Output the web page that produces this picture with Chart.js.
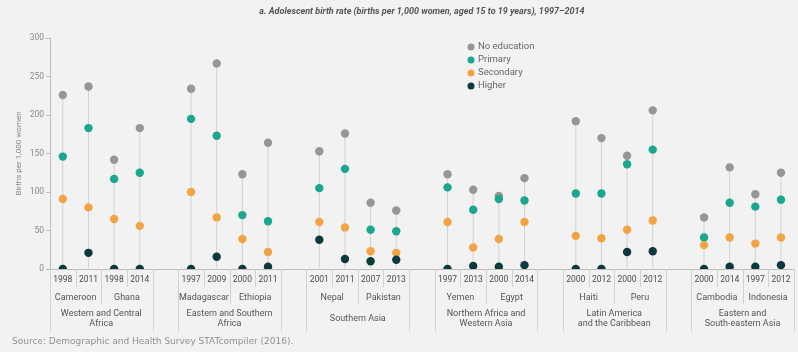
<!DOCTYPE html>
<html>
<head>
<meta charset="utf-8">
<script src="https://cdn.jsdelivr.net/npm/chart.js@4.4.1/dist/chart.umd.min.js"></script>
<style>
  html, body { margin: 0; padding: 0; background: #f2f2f2; }
  canvas { display: block; }
</style>
</head>
<body>
<canvas id="birthChart" width="798" height="352"></canvas>
<script>
// Survey years per country, '' marks the empty slot between regions
const years = ['1998', '2011', '1998', '2014', '',
               '1997', '2009', '2000', '2011', '',
               '2001', '2011', '2007', '2013', '',
               '1997', '2013', '2000', '2014', '',
               '2000', '2012', '2000', '2012', '',
               '2000', '2014', '1997', '2012'];

const countries = ['Cameroon', 'Ghana', 'Madagascar', 'Ethiopia', 'Nepal', 'Pakistan',
                   'Yemen', 'Egypt', 'Haiti', 'Peru', 'Cambodia', 'Indonesia'];

const regions = [['Western and Central', 'Africa'], ['Eastern and Southern', 'Africa'],
                 ['Southern Asia'], ['Northern Africa and', 'Western Asia'],
                 ['Latin America', 'and the Caribbean'], ['Eastern and', 'South-eastern Asia']];

// Births per 1,000 women aged 15-19, by mother's education
const noEducation = [226, 237, 142, 183, null, 234, 267, 123, 164, null, 153, 176, 86, 76, null,
                     123, 103, 95, 118, null, 192, 170, 147, 206, null, 67, 132, 97, 125];
const primary     = [146, 183, 117, 125, null, 195, 173, 70, 62, null, 105, 130, 51, 49, null,
                     106, 77, 91, 89, null, 98, 98, 136, 155, null, 41, 86, 81, 90];
const secondary   = [91, 80, 65, 56, null, 100, 67, 39, 22, null, 61, 54, 23, 21, null,
                     61, 28, 39, 61, null, 43, 40, 51, 63, null, 31, 41, 33, 41];
const higher      = [0, 21, 0, 0, null, 0, 16, 0, 3, null, 38, 13, 10, 12, null,
                     0, 4, 3, 5, null, 0, 0, 22, 23, null, 0, 3, 3, 5];

const yTicks = [0, 50, 100, 150, 200, 250, 300];

const FONT = 'Roboto, "DejaVu Sans", sans-serif';
const LINE_COLOR = '#d2d2d2';

// thin grey stem from zero up to the highest rate of each survey
const stems = noEducation.map(v => v === null ? null : [0, v]);

function dotSet(label, data, color, order) {
    return {
        type: 'line',
        label: label,
        data: data,
        showLine: false,
        pointRadius: 4.2,
        pointHoverRadius: 4.2,
        pointBorderWidth: 0,
        pointBackgroundColor: color,
        backgroundColor: color,
        borderColor: color,
        order: order
    };
}

// Legend, title, category table and source line
const decorations = {
    id: 'decorations',
    beforeDraw(chart) {
        const ctx = chart.ctx;
        ctx.save();
        ctx.fillStyle = '#f2f2f2';
        ctx.fillRect(0, 0, chart.width, chart.height);
        ctx.restore();
    },
    afterDraw(chart) {
        const ctx = chart.ctx;
        const x = chart.scales.x;
        const area = chart.chartArea;
        const px = i => x.getPixelForValue(i);
        const half = (px(1) - px(0)) / 2;
        const top = area.bottom;

        ctx.save();

        // title
        ctx.fillStyle = '#555';
        ctx.font = 'italic bold 9px "Liberation Sans Narrow", ' + FONT;
        ctx.textAlign = 'center';
        ctx.textBaseline = 'middle';
        ctx.fillText('a. Adolescent birth rate (births per 1,000 women, aged 15 to 19 years), 1997\u20132014',
            (area.left + area.right) / 2, 12);

        // legend
        const legendSets = chart.data.datasets.filter(d => d.type === 'line');
        ctx.textAlign = 'left';
        ctx.font = '9.5px ' + FONT;
        legendSets.forEach((ds, i) => {
            const ly = 47 + i * 13;
            ctx.fillStyle = ds.pointBackgroundColor;
            ctx.beginPath();
            ctx.arc(471, ly, 3.5, 0, Math.PI * 2);
            ctx.fill();
            ctx.fillStyle = '#666';
            ctx.fillText(ds.label, 478, ly);
        });

        // separators below the axis
        ctx.strokeStyle = LINE_COLOR;
        ctx.lineWidth = 1;
        const vline = (lx, y2) => {
            ctx.beginPath();
            ctx.moveTo(Math.round(lx) + 0.5, top);
            ctx.lineTo(Math.round(lx) + 0.5, y2);
            ctx.stroke();
        };

        ctx.textAlign = 'center';
        regions.forEach((region, r) => {
            const first = r * 5;
            const left = px(first) - half;
            const right = px(first + 3) + half;
            vline(left, 331);
            vline(right, 331);

            for (let c = 0; c < 2; c++) {
                const s = first + c * 2;
                if (c === 1) vline(px(s) - half, 304);
                vline(px(s) + half, 287);

                ctx.fillStyle = '#4a4a4a';
                ctx.font = '8.5px ' + FONT;
                ctx.fillText(years[s], px(s), 280);
                ctx.fillText(years[s + 1], px(s + 1), 280);

                ctx.fillStyle = '#555';
                ctx.font = '9px ' + FONT;
                ctx.fillText(countries[r * 2 + c], (px(s) + px(s + 1)) / 2, 298);
            }

            ctx.font = '9px ' + FONT;
            const cx = (left + right) / 2;
            if (region.length === 1) {
                ctx.fillText(region[0], cx, 319);
            } else {
                ctx.fillText(region[0], cx, 314);
                ctx.fillText(region[1], cx, 324);
            }
        });

        // source
        ctx.textAlign = 'left';
        ctx.fillStyle = '#909090';
        ctx.font = '9px "DejaVu Sans", sans-serif';
        ctx.fillText('Source: Demographic and Health Survey STATcompiler (2016).', 12, 342);

        ctx.restore();
    }
};

new Chart(document.getElementById('birthChart'), {
    type: 'bar',
    data: {
        labels: years,
        datasets: [
            {
                label: 'range',
                data: stems,
                backgroundColor: LINE_COLOR,
                barThickness: 1,
                inflateAmount: 0,
                order: 10
            },
            dotSet('No education', noEducation, '#969696', 4),
            dotSet('Primary', primary, '#1aa68f', 3),
            dotSet('Secondary', secondary, '#f2a445', 2),
            dotSet('Higher', higher, '#0c3a3c', 1)
        ]
    },
    options: {
        responsive: false,
        devicePixelRatio: 1,
        animation: false,
        layout: { padding: { top: 38, right: 2, bottom: 83, left: 0 } },
        plugins: {
            legend: { display: false },
            tooltip: { enabled: false }
        },
        scales: {
            x: {
                offset: true,
                grid: { display: false },
                ticks: { display: false },
                border: { display: true, color: '#bdbdbd' },
                afterFit(scale) { scale.height = 0; }
            },
            y: {
                min: 0,
                max: 300,
                afterBuildTicks(scale) { scale.ticks = yTicks.map(v => ({ value: v })); },
                afterFit(scale) { scale.width = 50; },
                ticks: {
                    color: '#888',
                    padding: 2,
                    font: { size: 8.5, family: FONT }
                },
                grid: {
                    display: true,
                    drawOnChartArea: false,
                    drawTicks: true,
                    tickLength: 4,
                    color: '#bdbdbd'
                },
                border: { display: true, color: '#bdbdbd' },
                title: {
                    display: true,
                    text: 'Births per 1,000 women',
                    color: '#888',
                    font: { size: 8, family: FONT },
                    padding: { top: 14, bottom: 0 }
                }
            }
        }
    },
    plugins: [decorations]
});
</script>
</body>
</html>
